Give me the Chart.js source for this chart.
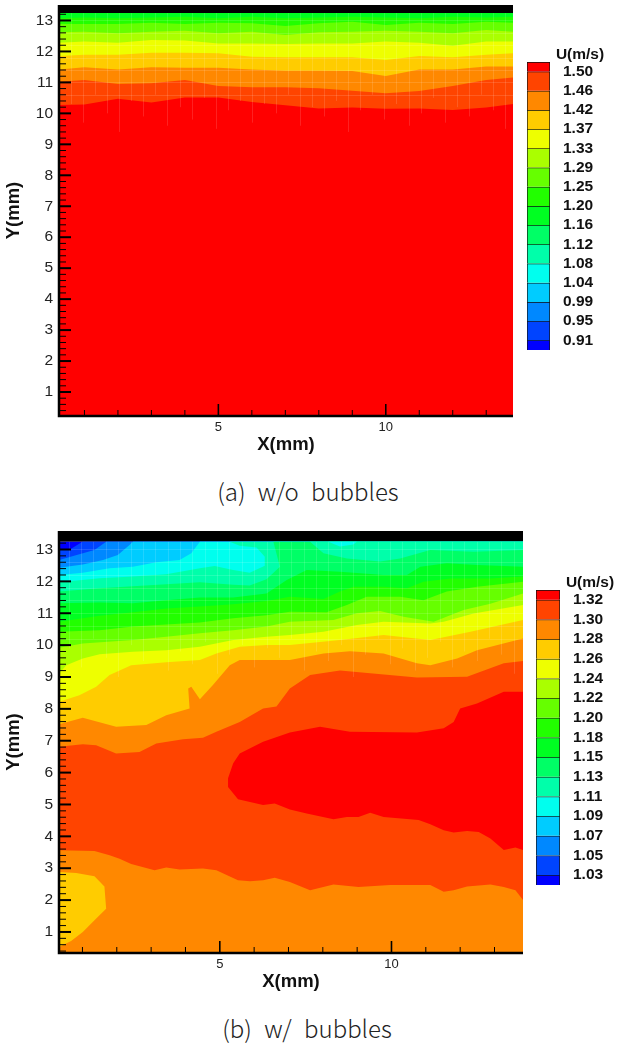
<!DOCTYPE html>
<html>
<head>
<meta charset="utf-8">
<title>U contours</title>
<script src="https://cdn.jsdelivr.net/npm/chart.js@4"></script>
<style>
body { margin: 0; background: #fff; width: 617px; height: 1044px; position: relative; overflow: hidden; }
canvas { position: absolute; display: block; }
.txt { position: absolute; white-space: pre; text-align: center; transform: translate(-50%, -50%); }
.cbTitle { font: bold 15.5px "Liberation Sans", Arial, sans-serif; color: #111; }
.caption { font: 300 24px "Noto Sans CJK KR", "Noto Sans", sans-serif; color: #222; word-spacing: 7px; }
</style>
</head>
<body>
<canvas id="chartTop" width="526" height="470" style="left:0;top:0"></canvas>
<canvas id="barTop" width="97" height="320" style="left:520px;top:45px"></canvas>
<canvas id="chartBottom" width="536" height="480" style="left:0;top:525px"></canvas>
<canvas id="barBottom" width="87" height="320" style="left:530px;top:580px"></canvas>
<div class="txt cbTitle" style="left:580px;top:54px">U(m/s)</div>
<div class="txt cbTitle" style="left:590px;top:582px">U(m/s)</div>
<div class="txt caption" style="left:308px;top:490px">(a) w/o bubbles</div>
<div class="txt caption" style="left:307px;top:1027px">(b) w/ bubbles</div>
<script>
// level colours, fastest first
var colors = ['#ff0000', '#ff4400', '#ff8800', '#ffcc00', '#eeff00', '#aaff00', '#66ff00', '#22ff00',
              '#00ff22', '#00ff66', '#00ffaa', '#00ffee', '#00ccff', '#0088ff', '#0044ff', '#0000ff'];
var levelsTop = ['1.50', '1.46', '1.42', '1.37', '1.33', '1.29', '1.25', '1.20', '1.16', '1.12', '1.08', '1.04', '0.99', '0.95', '0.91'];
var levelsBottom = ['1.32', '1.30', '1.28', '1.26', '1.24', '1.22', '1.20', '1.18', '1.15', '1.13', '1.11', '1.09', '1.07', '1.05', '1.03'];

var xTicks = [1, 2, 3, 4, 5, 6, 7, 8, 9, 10, 11, 12, 13];
var yTicks = [1, 2, 3, 4, 5, 6, 7, 8, 9, 10, 11, 12, 13];
var wallY = 13.24;

// faint cell seams of the contour mesh, each vertical stops at its own depth below the chart's floor
var meshX = [0.6, 0.96, 1.32, 1.68, 2.04, 2.4, 2.76, 3.12, 3.48, 3.84, 4.2, 4.56, 4.92, 5.28, 5.64, 6.0, 6.36, 6.72, 7.08,
             7.44, 7.8, 8.16, 8.52, 8.88, 9.24, 9.6, 9.96, 10.32, 10.68, 11.04, 11.4, 11.76, 12.12, 12.48, 12.84, 13.2, 13.56];
var meshDrop = [0.3, 0.9, 0, 0.6, 1.2, 0.2, 0.7, 0, 1.0, 0.4, 0.8, 0.1, 1.1, 0.5, 0.2, 0.9, 0.3, 0.6, 0,
                1.0, 0.4, 0.7, 0.2, 1.2, 0.5, 0, 0.8, 0.3, 1.0, 0.6, 0.1, 0.9, 0.4, 0.7, 0, 0.5, 1.1];
var meshY = [9.8, 10.2, 10.6, 11.0, 11.4, 11.8, 12.2, 12.6, 13.0];

// (a) contour heights over a shared x list
var topX = [0.24, 1, 2, 3, 4, 5, 6, 7, 8, 9, 10, 11, 12, 13, 13.8];
var top22 = [13.07, 13.10, 13.07, 13.10, 13.12, 13.07, 13.12, 13.07, 13.10, 13.12, 13.10, 13.07, 13.12, 13.10, 13.12];
var top66 = [12.89, 12.89, 12.89, 12.93, 12.89, 12.93, 12.91, 12.82, 12.91, 12.96, 12.85, 12.93, 12.89, 12.96, 12.93];
var topAa = [12.62, 12.64, 12.59, 12.64, 12.67, 12.59, 12.64, 12.53, 12.62, 12.64, 12.67, 12.64, 12.59, 12.69, 12.64];
var topEe = [12.28, 12.32, 12.28, 12.37, 12.35, 12.26, 12.26, 12.24, 12.26, 12.26, 12.32, 12.28, 12.18, 12.32, 12.32];
var topCc = [11.85, 11.89, 11.89, 11.96, 11.96, 11.94, 11.83, 11.81, 11.81, 11.81, 11.72, 11.85, 11.81, 11.89, 11.94];
var top88 = [11.42, 11.49, 11.42, 11.49, 11.47, 11.47, 11.42, 11.38, 11.38, 11.37, 11.21, 11.42, 11.42, 11.51, 11.51];
var top44 = [11.02, 11.08, 10.95, 10.97, 11.08, 10.88, 10.84, 10.84, 10.81, 10.73, 10.65, 10.72, 10.88, 11.08, 11.16];
var top00 = [10.27, 10.29, 10.47, 10.35, 10.51, 10.51, 10.37, 10.26, 10.16, 10.19, 10.15, 10.16, 10.11, 10.19, 10.30];

// (b) contours as [x, y] in mm, left to right
var c0044 = [[0.32, 12.98], [0.67, 13.02], [1.0, 13.24]];
var c0088 = [[0.32, 12.67], [0.91, 12.85], [1.35, 12.98], [1.69, 13.24]];
var c00cc = [[0.32, 12.43], [1.01, 12.53], [1.6, 12.67], [2.03, 12.83], [2.37, 13.14], [2.47, 13.24]];
var c00ee = [[0.32, 12.2], [1.01, 12.27], [1.79, 12.41], [2.47, 12.46], [3.15, 12.6], [3.83, 12.67], [4.17, 12.88], [4.42, 13.24]];
var c00aa = [[0.32, 11.97], [1.5, 12.1], [2.47, 12.15], [3.44, 12.22], [4.42, 12.41], [4.85, 12.48], [5.39, 12.36], [5.87, 12.27],
             [6.31, 12.49], [6.31, 12.77], [6.07, 13.06], [5.58, 13.12], [5.29, 13.24]];
var c0066 = [[0.32, 11.68], [1.5, 11.78], [2.47, 11.85], [3.44, 11.91], [4.42, 11.97], [5.39, 11.89], [5.87, 11.87], [6.36, 12.07],
             [6.75, 12.46], [6.56, 13.24]];
var patchAa = [[7.63, 13.24], [8.02, 12.88], [8.7, 12.72], [9.67, 12.62], [10.25, 12.72], [11.13, 12.98], [12.39, 12.93], [13.83, 12.98], [13.83, 13.24]];
var patchEe = [[8.16, 13.24], [8.5, 13.09], [8.89, 13.16], [8.99, 13.24]];
var c0022 = [[0.32, 11.31], [1.5, 11.34], [2.47, 11.31], [3.44, 11.41], [4.42, 11.49], [5.39, 11.49], [6.36, 11.62], [6.95, 12.04],
             [7.53, 12.36], [8.5, 12.3], [9.77, 12.2], [10.45, 12.2], [10.84, 12.46], [11.61, 12.57], [12.49, 12.51], [13.83, 12.46]];
var c2200 = [[0.32, 10.73], [1.5, 10.92], [2.47, 11.03], [3.44, 11.15], [4.42, 11.21], [5.39, 11.28], [6.36, 11.38], [7.04, 11.52],
             [8.02, 11.45], [8.5, 11.68], [8.89, 11.83], [9.77, 11.83], [10.45, 11.78], [10.93, 11.99], [11.71, 12.09], [12.88, 12.09], [13.83, 12.15]];
var c6600 = [[0.32, 10.42], [1.5, 10.47], [2.47, 10.58], [3.44, 10.65], [4.42, 10.71], [5.39, 10.84], [6.36, 10.94], [7.04, 11.05],
             [8.11, 11.03], [8.7, 11.26], [9.28, 11.52], [10.25, 11.52], [10.93, 11.41], [11.61, 11.68], [12.49, 11.83], [13.83, 11.99]];
var cAa00 = [[0.32, 9.92], [1.01, 10.05], [2.47, 10.16], [3.44, 10.26], [4.42, 10.37], [5.39, 10.47], [6.36, 10.58], [7.04, 10.73],
             [8.31, 10.79], [8.99, 11.0], [9.67, 11.07], [10.35, 10.89], [11.23, 10.73], [12.1, 11.1], [12.88, 11.3], [13.83, 11.62]];
var cEe00 = [[0.32, 9.11], [0.53, 9.37], [1.01, 9.58], [1.5, 9.71], [2.47, 9.79], [3.44, 9.84], [4.42, 9.95], [5.39, 10.16], [6.36, 10.26],
             [7.04, 10.32], [8.02, 10.42], [8.99, 10.63], [9.77, 10.73], [11.13, 10.68], [11.52, 10.73], [12.39, 10.99], [13.83, 11.26]];
var cCc00 = [[0.32, 8.22], [0.91, 8.43], [1.4, 8.69], [1.79, 9.06], [2.42, 9.37], [3.44, 9.46], [4.42, 9.53], [4.9, 9.74], [5.58, 9.95],
             [6.36, 10.0], [7.04, 10.0], [8.5, 10.16], [9.77, 10.32], [11.13, 10.16], [12.3, 10.42], [13.83, 10.79]];
var c8800 = [[0.32, 7.52], [1.01, 7.72], [1.98, 7.44], [2.86, 7.49], [3.44, 7.8], [4.12, 8.01], [4.08, 8.64], [4.17, 8.69], [4.42, 8.3],
             [4.8, 8.75], [5.29, 9.37], [5.58, 9.53], [6.36, 9.53], [7.04, 9.53], [8.02, 9.74], [8.79, 9.81], [9.77, 9.74],
             [10.74, 9.43], [11.13, 9.37], [11.91, 9.58], [12.49, 9.84], [13.83, 10.21]];
var c4400 = [[0.32, 6.81], [1.01, 6.89], [1.4, 6.86], [1.98, 6.6], [2.66, 6.65], [3.15, 6.91], [3.93, 7.05], [4.51, 7.09], [4.9, 7.28],
             [5.58, 7.59], [6.26, 8.01], [6.65, 8.07], [7.04, 8.64], [7.63, 9.06], [8.5, 9.2], [10.74, 8.98], [12.2, 9.01], [13.27, 9.43], [13.83, 9.5]];
var blobRed = [[5.24, 5.82], [5.39, 6.29], [5.58, 6.6], [6.26, 6.97], [7.04, 7.26], [7.92, 7.44], [8.79, 7.28], [10.74, 7.26], [11.52, 7.39],
               [11.81, 7.59], [12.0, 8.01], [12.49, 8.17], [13.27, 8.54], [13.83, 8.54], [13.83, 3.57], [13.61, 3.65], [13.27, 3.57], [12.88, 3.93],
               [12.54, 4.14], [12.2, 4.17], [11.81, 4.12], [11.52, 4.19], [11.13, 4.38], [10.79, 4.51], [9.77, 4.61], [9.38, 4.74], [9.04, 4.61],
               [8.7, 4.61], [8.31, 4.54], [7.53, 4.72], [7.04, 4.84], [6.6, 5.03], [6.26, 4.98], [5.53, 5.16], [5.24, 5.55]];
var cLow88 = [[0.32, 3.56], [1.35, 3.54], [1.79, 3.41], [2.08, 3.3], [2.42, 3.13], [3.1, 2.94], [3.44, 3.02], [3.83, 2.96], [4.51, 2.99],
              [4.9, 2.94], [5.53, 2.62], [5.88, 2.59], [6.26, 2.62], [6.6, 2.7], [7.04, 2.57], [7.63, 2.31], [8.31, 2.49], [9.04, 2.41],
              [9.96, 2.47], [11.13, 2.47], [11.52, 2.26], [11.81, 2.31], [12.2, 2.43], [12.88, 2.49], [13.27, 2.41], [13.61, 2.31], [13.83, 2.0]];
var blobCc = [[0.32, 2.88], [0.82, 2.85], [1.35, 2.75], [1.64, 2.43], [1.69, 1.73], [1.35, 1.37], [1.01, 1.0], [0.67, 0.72], [0.32, 0.53]];

// mesh seams, tick marks inside the frame and the frame, all placed through the scales
var frameTicks = {
    id: 'frameTicks',
    afterDatasetsDraw: function(chart, args, opts) {
        var ctx = chart.ctx, a = chart.chartArea, sx = chart.scales.x, sy = chart.scales.y, v, p;
        ctx.save();
        ctx.strokeStyle = 'rgba(255,255,255,0.13)';
        ctx.lineWidth = 1;
        var top = sy.getPixelForValue(wallY);
        meshX.forEach(function(m, i) {
            p = Math.round(sx.getPixelForValue(m)) + 0.5;
            ctx.beginPath();
            ctx.moveTo(p, top);
            ctx.lineTo(p, sy.getPixelForValue(opts.meshFloor - meshDrop[i]));
            ctx.stroke();
        });
        meshY.forEach(function(m) {
            if (m < opts.meshFloor) return;
            p = Math.round(sy.getPixelForValue(m)) + 0.5;
            ctx.beginPath();
            ctx.moveTo(a.left, p);
            ctx.lineTo(a.right, p);
            ctx.stroke();
        });
        ctx.strokeStyle = '#000';
        for (v = 1; v <= 13; v++) {
            p = sx.getPixelForValue(v);
            ctx.lineWidth = v % 5 === 0 ? 1.6 : 1;
            ctx.beginPath();
            ctx.moveTo(p, a.bottom);
            ctx.lineTo(p, a.bottom - (v % 5 === 0 ? 12 : 6));
            ctx.stroke();
        }
        for (v = 0; v <= 66; v++) {
            var val = v / 5;
            if (val < sy.min || val > wallY) continue;
            p = sy.getPixelForValue(val);
            ctx.lineWidth = v % 5 === 0 ? 2 : 1;
            ctx.beginPath();
            ctx.moveTo(a.left, p);
            ctx.lineTo(a.left + (v % 5 === 0 ? 12 : 7), p);
            ctx.stroke();
        }
        ctx.lineWidth = 2.5;
        ctx.beginPath();
        ctx.moveTo(a.left, a.top);
        ctx.lineTo(a.left, a.bottom);
        ctx.lineTo(a.right, a.bottom);
        ctx.stroke();
        ctx.restore();
    }
};

// closes a contour along the right side and bottom of the plot
function below(curve, xMin, xMax, yMin) {
    var last = curve[curve.length - 1];
    return curve.concat([[xMax, last[1]], [xMax, yMin], [xMin, yMin]]);
}

function toPoints(list) {
    return list.map(function(p) { return { x: p[0], y: p[1] }; });
}

function shape(points, color) {
    return {
        data: points,
        showLine: true,
        fill: 'shape',
        backgroundColor: color,
        borderColor: color,
        borderWidth: 0,
        pointRadius: 0,
        tension: 0
    };
}

function contourChart(id, paint, box, xLim, yLim) {
    new Chart(document.getElementById(id), {
        type: 'scatter',
        // chart.js paints the first dataset last
        data: { datasets: paint.slice().reverse() },
        options: {
            responsive: false,
            animation: false,
            events: [],
            layout: { padding: { top: box.top, right: box.right, left: 0, bottom: box.pad } },
            plugins: {
                legend: { display: false },
                tooltip: { enabled: false },
                frameTicks: { meshFloor: box.meshFloor }
            },
            scales: {
                x: {
                    type: 'linear', min: xLim[0], max: xLim[1],
                    grid: { display: false, drawTicks: false }, border: { display: false },
                    afterBuildTicks: function(s) { s.ticks = xTicks.map(function(v) { return { value: v }; }); },
                    afterFit: function(s) { s.height = box.bottom; s.paddingLeft = 0; s.paddingRight = 0; },
                    ticks: {
                        autoSkip: false, maxRotation: 0, padding: 3.5, color: '#222',
                        font: { family: 'Liberation Sans', size: 13 },
                        callback: function(v) { return v % 5 === 0 ? String(v) : ''; }
                    },
                    title: { display: true, text: 'X(mm)', color: '#111', padding: { top: 1, bottom: 0 },
                             font: { family: 'Liberation Sans', size: 18.5, weight: 'bold' } }
                },
                y: {
                    type: 'linear', min: yLim[0], max: yLim[1],
                    grid: { display: false, drawTicks: false }, border: { display: false },
                    afterBuildTicks: function(s) { s.ticks = yTicks.map(function(v) { return { value: v }; }); },
                    afterFit: function(s) { s.width = box.left; s.paddingTop = 0; s.paddingBottom = 0; },
                    ticks: {
                        autoSkip: false, padding: 6, color: '#222',
                        font: { family: 'Liberation Sans', size: 15.5 },
                        callback: function(v) { return String(v); }
                    },
                    title: { display: true, text: 'Y(mm)', color: '#111', padding: { top: 3, bottom: 0 },
                             font: { family: 'Liberation Sans', size: 18.5, weight: 'bold' } }
                }
            }
        },
        plugins: [frameTicks]
    });
}

function colorBar(id, labels, box) {
    var n = labels.length;
    new Chart(document.getElementById(id), {
        type: 'bar',
        data: {
            labels: ['U'],
            datasets: colors.map(function(c, i) {
                // each label sits on the lower edge of its colour, end colours are half height
                var hi = Math.min(n - i + 1, n + 0.5), lo = Math.max(n - i, 0.5);
                return { data: [[lo, hi]], backgroundColor: c, borderColor: '#111', borderWidth: 1,
                         barPercentage: 1, categoryPercentage: 1, grouped: false };
            })
        },
        options: {
            responsive: false,
            animation: false,
            events: [],
            layout: { padding: { top: box.top, left: box.left, right: 0, bottom: box.bottom } },
            plugins: { legend: { display: false }, tooltip: { enabled: false } },
            scales: {
                x: { display: false },
                y: {
                    position: 'right', min: 0.5, max: n + 0.5,
                    grid: { display: false, drawTicks: false }, border: { display: false },
                    afterBuildTicks: function(s) { s.ticks = labels.map(function(l, i) { return { value: n - i }; }); },
                    afterFit: function(s) { s.width = box.axis; s.paddingTop = 0; s.paddingBottom = 0; },
                    ticks: {
                        autoSkip: false, padding: 13, color: '#111',
                        font: { family: 'Liberation Sans', size: 15.5, weight: 'bold' },
                        callback: function(v) { return labels[n - v]; }
                    }
                }
            }
        }
    });
}

var topPaint = [
    shape(toPoints([[0.24, 13.5], [13.8, 13.5], [13.8, wallY], [0.24, wallY]]), '#000000'),
    shape(toPoints([[0.24, wallY], [13.8, wallY], [13.8, 0.225], [0.24, 0.225]]), colors[8])
];
[top22, top66, topAa, topEe, topCc, top88, top44, top00].forEach(function(ys, i) {
    var pts = ys.map(function(y, k) { return [topX[k], y]; });
    topPaint.push(shape(toPoints(below(pts, 0.24, 13.8, 0.225)), colors[7 - i]));
});

function low(c) { return below(c, 0.32, 13.83, 0.34); }
var bottomPaint = [
    shape(toPoints([[0.32, 13.58], [13.83, 13.58], [13.83, wallY], [0.32, wallY]]), '#000000'),
    shape(toPoints([[0.32, wallY], [13.83, wallY], [13.83, 0.34], [0.32, 0.34]]), colors[15]),
    shape(toPoints(low(c0044)), colors[14]),
    shape(toPoints(low(c0088)), colors[13]),
    shape(toPoints(low(c00cc)), colors[12]),
    shape(toPoints(low(c00ee)), colors[11]),
    shape(toPoints(low(c00aa)), colors[10]),
    shape(toPoints(low(c0066)), colors[9]),
    shape(toPoints(patchAa), colors[10]),
    shape(toPoints(patchEe), colors[11]),
    shape(toPoints(low(c0022)), colors[8]),
    shape(toPoints(low(c2200)), colors[7]),
    shape(toPoints(low(c6600)), colors[6]),
    shape(toPoints(low(cAa00)), colors[5]),
    shape(toPoints(low(cEe00)), colors[4]),
    shape(toPoints(low(cCc00)), colors[3]),
    shape(toPoints(low(c8800)), colors[2]),
    shape(toPoints(low(c4400)), colors[1]),
    shape(toPoints(blobRed), colors[0]),
    shape(toPoints(low(cLow88)), colors[2]),
    shape(toPoints(blobCc), colors[3])
];

contourChart('chartTop', topPaint, { left: 59, top: 5, right: 13, bottom: 40, pad: 14, meshFloor: 10.6 }, [0.24, 13.8], [0.225, 13.5]);
contourChart('chartBottom', bottomPaint, { left: 59, top: 6, right: 13, bottom: 40, pad: 12, meshFloor: 10.2 }, [0.317, 13.83], [0.34, 13.58]);
colorBar('barTop', levelsTop, { top: 17, left: 7, bottom: 15, axis: 67 });
colorBar('barBottom', levelsBottom, { top: 10, left: 6, bottom: 15, axis: 57 });
</script>
</body>
</html>
